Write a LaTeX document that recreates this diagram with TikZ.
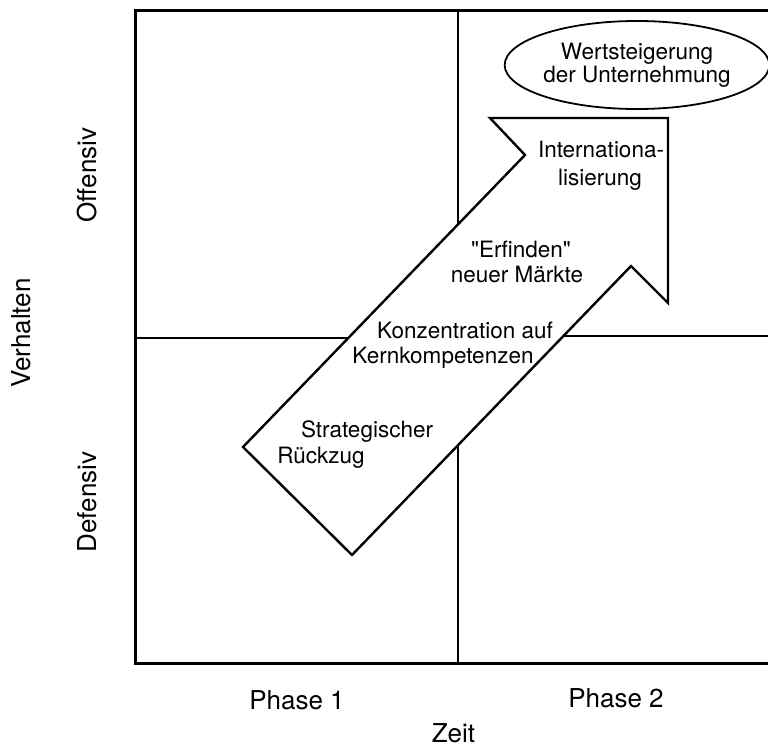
\documentclass[tikz,border=0pt]{standalone}
\usepackage{fontspec}
\setmainfont{TeX Gyre Heros}
\newfontfamily\plainquote{TeX Gyre Heros}[Ligatures=TeXOff]
\usetikzlibrary{shapes.geometric}
\newcommand\innerfont{\fontsize{22.5}{27}\selectfont}
\newcommand\ellfont{\fontsize{22.5}{23.5}\selectfont}
\newcommand\labelfont{\fontsize{26}{30}\selectfont}
\begin{document}
\begin{tikzpicture}[x=1pt,y=-1pt,
  frameline/.style={line width=3pt},
  gridline/.style={line width=2pt},
  arrowshape/.style={line width=2.4pt, line join=miter, fill=white},
  lbl/.style={anchor=base, inner sep=0pt, font=\labelfont},
  txt/.style={anchor=base, inner sep=0pt, font=\innerfont}]
\useasboundingbox (0,0) rectangle (768,747);
% frame
\coordinate (TL) at (135,10);
\coordinate (TR) at (768,10);
\coordinate (BL) at (135,663);
\coordinate (BR) at (768,663);
\draw[frameline] (TR) -- (TL) -- (BL) -- (BR);
% grid lines
\coordinate (Vtop) at (458,10);
\coordinate (Vup) at (458,224);
\coordinate (Vlow) at (458,444);
\coordinate (Vbot) at (458,663);
\coordinate (Hl) at (135,338);
\coordinate (Hlend) at (348,338);
\coordinate (Hr) at (563,336);
\coordinate (Hrend) at (768,336);
\draw[gridline] (Vtop) -- (Vup);
\draw[gridline] (Vlow) -- (Vbot);
\draw[gridline] (Hl) -- (Hlend);
\draw[gridline] (Hr) -- (Hrend);
% arrow
\coordinate (A1) at (243,447);
\coordinate (A2) at (525,155);
\coordinate (A3) at (490,118);
\coordinate (A4) at (668,118);
\coordinate (A5) at (668,303);
\coordinate (A6) at (631,266);
\coordinate (A7) at (352,555);
\draw[arrowshape] (A1) -- (A2) -- (A3) -- (A4) -- (A5) -- (A6) -- (A7) -- cycle;
% ellipse
\node[draw, ellipse, line width=1.8pt, minimum width=256pt, minimum height=88pt,
      inner sep=0pt, align=center, font=\ellfont] (ziel) at (637,65)
      {Wertsteigerung\\der Unternehmung};
% arrow texts
\node[txt] (int1) at (601,157) {Internationa-};
\node[txt] (int2) at (600,185) {lisierung};
\node[txt] (erf1) at (521,257) {{\plainquote "}Erfinden{\plainquote "}};
\node[txt] (erf2) at (517,282) {neuer Märkte};
\node[txt] (kon1) at (465,338) {Konzentration auf};
\node[txt] (kon2) at (443,363) {Kernkompetenzen};
\node[txt] (str1) at (367,437) {Strategischer};
\node[txt] (str2) at (321,463) {Rückzug};
% axis labels
\node[lbl, rotate=90] (off) at (96,175) {Offensiv};
\node[lbl, rotate=90] (def) at (96,502) {Defensiv};
\node[lbl, rotate=90] (verh) at (30,333) {Verhalten};
\node[lbl] (ph1) at (297,709) {Phase 1};
\node[lbl] (ph2) at (616,707) {Phase 2};
\node[lbl] (zeit) at (453.5,742) {Zeit};
\end{tikzpicture}
\end{document}
